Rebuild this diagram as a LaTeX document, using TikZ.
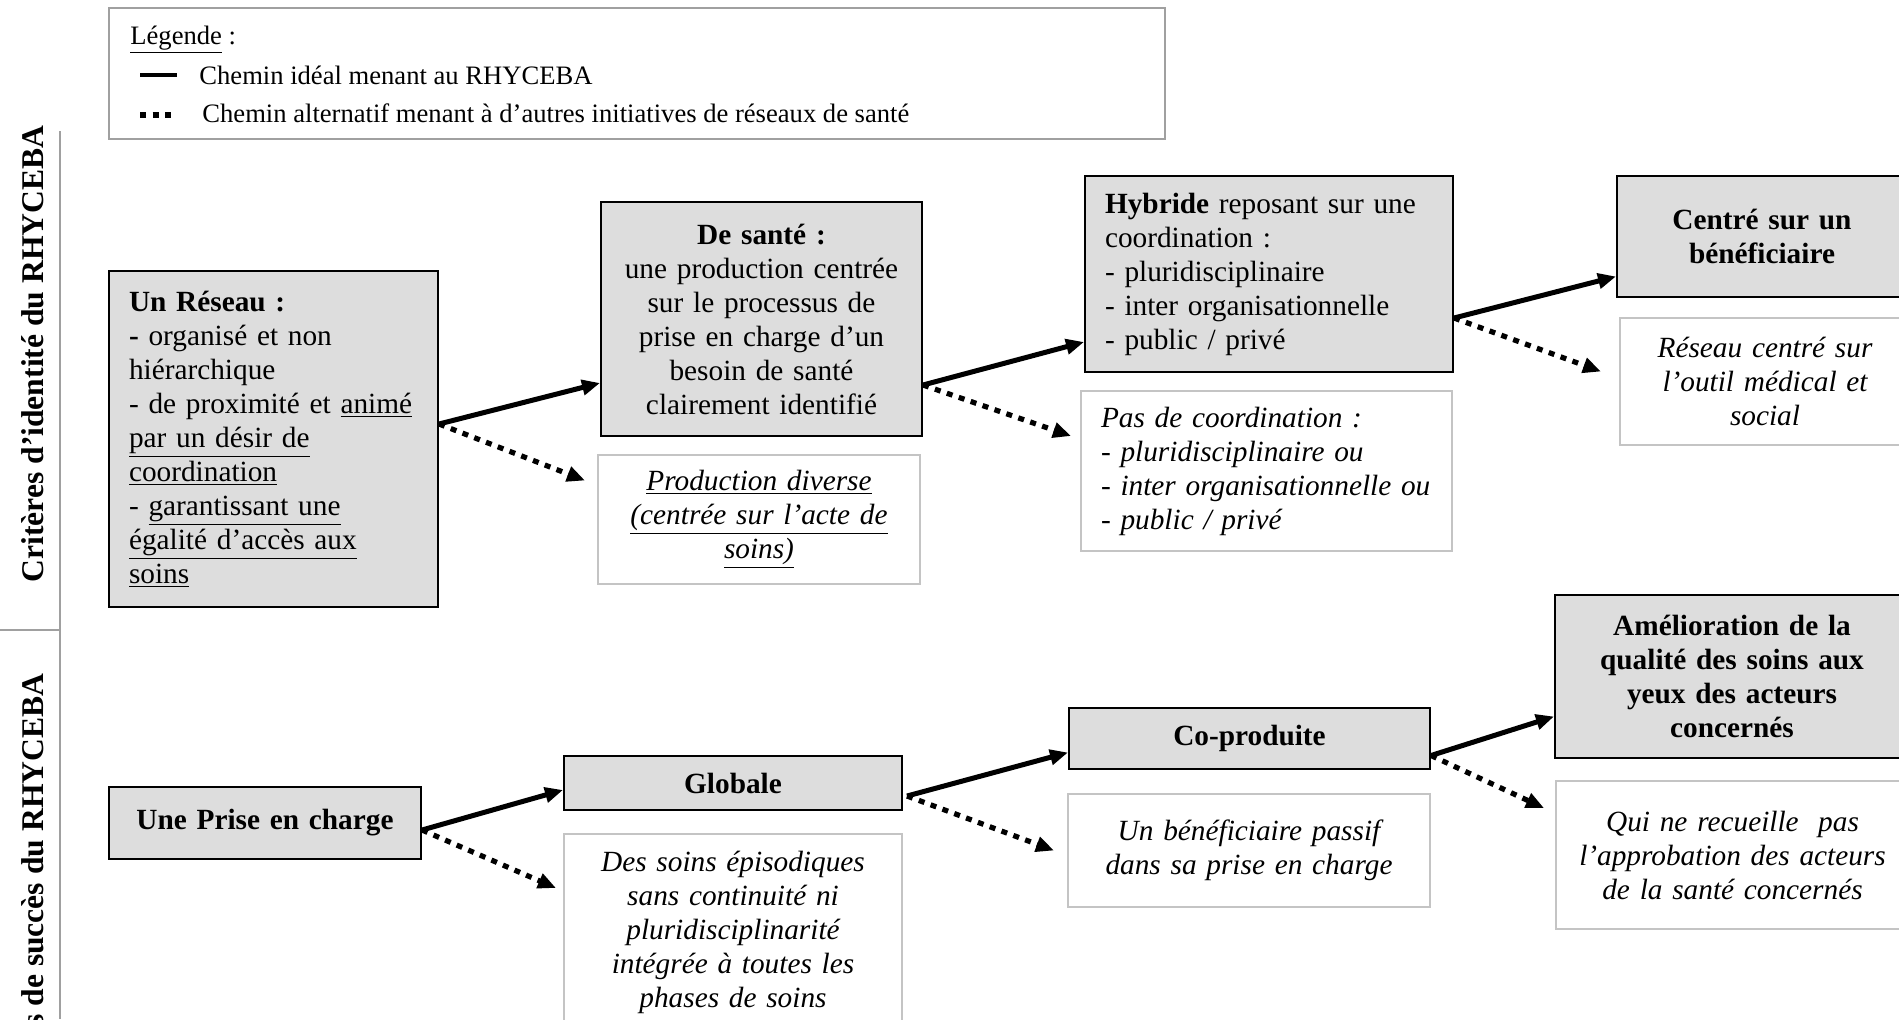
\documentclass[tikz,border=0pt]{standalone}
\usepackage{fontspec}
\setmainfont{Liberation Serif}
\usepackage{tikz}
\usetikzlibrary{arrows.meta,calc}

\definecolor{fondgris}{HTML}{DDDDDD}
\definecolor{bordgris}{HTML}{C4C4C4}
\definecolor{filetgris}{HTML}{A0A0A0}

\newcommand{\corps}{\fontsize{14.65pt}{17pt}\selectfont}
\newcommand{\petit}{\fontsize{13.3pt}{16pt}\selectfont}
\newcommand{\titre}{\fontsize{15.8pt}{19pt}\selectfont\bfseries}

\begin{document}
\begin{tikzpicture}[x=0.5pt, y=-0.5pt,
            critere/.style = {shape=rectangle, draw=black, line width=1pt,
                              fill=fondgris, inner xsep=6pt, inner ysep=2pt,
                              align=center, font=\corps},
            gauche/.style = {align=left, inner xsep=10pt},
            autre/.style = {shape=rectangle, draw=bordgris, line width=1pt,
                            fill=white, inner xsep=6pt, inner ysep=2pt,
                            align=center, font=\corps\itshape},
            dim/.style n args = {3}{minimum width=#1, minimum height=#2, text width=#3},
            ideal/.style = {line width=2.5pt, -{Triangle[length=9pt,width=7.5pt]}},
            pointille/.style = {line width=2.6pt, dash pattern=on 3pt off 3.3pt},
            alternatif/.style = {pointille, -{Triangle[length=9pt,width=7.5pt]}},
            filet/.style = {draw=filetgris, line width=0.8pt}]
    \useasboundingbox (0,0) rectangle (1899,1019);

    \node[draw=filetgris, line width=0.8pt, minimum width=528pt, minimum height=65.5pt] (legende) at (637,73.5) {};
    \node[anchor=base west, inner sep=0pt, font=\petit] (leg-titre) at (130,44) {\underline{Légende} :};
    \node[anchor=base west, inner sep=0pt, font=\petit] (leg-ideal) at (199,84) {Chemin idéal menant au RHYCEBA};
    \node[anchor=base west, inner sep=0pt, font=\petit] (leg-alt) at (202,122) {Chemin alternatif menant à d’autres initiatives de réseaux de santé};
    \draw[line width=2.2pt] (140,75) -- (177,75);
    \draw[pointille] (140,115) -- (177,115);

    \draw[filet] (60,131) -- (60,1019);
    \draw[filet] (0,630) -- (60,630);
    \node[rotate=90, font=\titre] (identite) at (33,354) {Critères d’identité du RHYCEBA};
    \node[rotate=90, font=\titre] (succes) at (33,899) {Critères de succès du RHYCEBA};

    \node[critere, gauche, dim={164.5pt}{168pt}{144.5pt}] (res) at (273.5,439)
        {\textbf{Un Réseau :}\\\textbf{-} organisé et non\\hiérarchique\\- de proximité et \underline{animé}\\\underline{par un désir de}\\\underline{coordination}\\- \underline{garantissant une}\\\underline{égalité d’accès aux}\\\underline{soins}};
    \node[critere, dim={160.5pt}{117pt}{148.5pt}] (sante) at (761.5,319)
        {\textbf{De santé :}\\une production centrée\\sur le processus de\\prise en charge d’un\\besoin de santé\\clairement identifié};
    \node[autre, dim={161pt}{64.5pt}{149pt}] (prod) at (759,519.5)
        {\underline{Production diverse}\\\underline{(centrée sur l’acte de}\\\underline{soins)}};
    \node[critere, gauche, dim={184pt}{98pt}{164pt}] (hyb) at (1269,274)
        {\textbf{Hybride} reposant sur une\\coordination :\\- pluridisciplinaire\\- inter organisationnelle\\- public / privé};
    \node[autre, gauche, dim={185.5pt}{80pt}{165.5pt}] (pasco) at (1266.5,471)
        {Pas de coordination :\\- pluridisciplinaire ou\\- inter organisationnelle ou\\- public / privé};
    \node[critere, font=\corps\bfseries, dim={145pt}{60.5pt}{133pt}] (centre) at (1762,236.5)
        {Centré sur un\\bénéficiaire\par\vspace*{16pt}};
    \node[autre, dim={145pt}{63.5pt}{133pt}] (outil) at (1765,381.5)
        {Réseau centré sur\\l’outil médical et\\social};

    \node[critere, font=\corps\bfseries, dim={156pt}{36pt}{144pt}] (prise) at (265,823) {Une Prise en charge};
    \node[critere, font=\corps\bfseries, dim={169pt}{27pt}{157pt}] (glob) at (733,783) {Globale};
    \node[autre, dim={169pt}{98pt}{157pt}] (episo) at (733,932)
        {Des soins épisodiques\\sans continuité ni\\pluridisciplinarité\\intégrée à toutes les\\phases de soins};
    \node[critere, font=\corps\bfseries, dim={180.5pt}{30.5pt}{168.5pt}] (copro) at (1249.5,738.5) {Co-produite};
    \node[autre, dim={181pt}{56.5pt}{169pt}] (passif) at (1249,850.5)
        {Un bénéficiaire passif\\dans sa prise en charge\par\vspace*{8pt}};
    \node[critere, font=\corps\bfseries, dim={177pt}{81.5pt}{165pt}] (amel) at (1732,676.5)
        {Amélioration de la\\qualité des soins aux\\yeux des acteurs\\concernés};
    \node[autre, dim={176.5pt}{74pt}{164.5pt}] (recueil) at (1732.5,855)
        {Qui ne recueille\ \ pas\\l’approbation des acteurs\\de la santé concernés\par\vspace*{11pt}};

    \draw[ideal] ($(res.east)+(0,-15)$) -- ($(sante.west)+(0,64)$);
    \draw[alternatif] ($(res.east)+(0,-15)$) -- ($(prod.west)+(-12,-39)$);
    \draw[ideal] ($(sante.east)+(0,66)$) -- ($(hyb.west)+(0,68)$);
    \draw[alternatif] ($(sante.east)+(0,66)$) -- ($(pasco.west)+(-9,-35)$);
    \draw[ideal] ($(hyb.east)+(0,44)$) -- ($(centre.west)+(0,40)$);
    \draw[alternatif] ($(hyb.east)+(0,44)$) -- ($(outil.west)+(-18,-10)$);
    \draw[ideal] ($(prise.east)+(0,7)$) -- ($(glob.west)+(0,7)$);
    \draw[alternatif] ($(prise.east)+(0,7)$) -- ($(episo.west)+(-7,-44)$);
    \draw[ideal] ($(glob.east)+(4,13)$) -- ($(copro.west)+(0,14)$);
    \draw[alternatif] ($(glob.east)+(4,13)$) -- ($(passif.west)+(-13,0)$);
    \draw[ideal] ($(copro.east)+(0,17)$) -- ($(amel.west)+(0,40)$);
    \draw[alternatif] ($(copro.east)+(0,17)$) -- ($(recueil.west)+(-11,-47)$);
\end{tikzpicture}
\end{document}
